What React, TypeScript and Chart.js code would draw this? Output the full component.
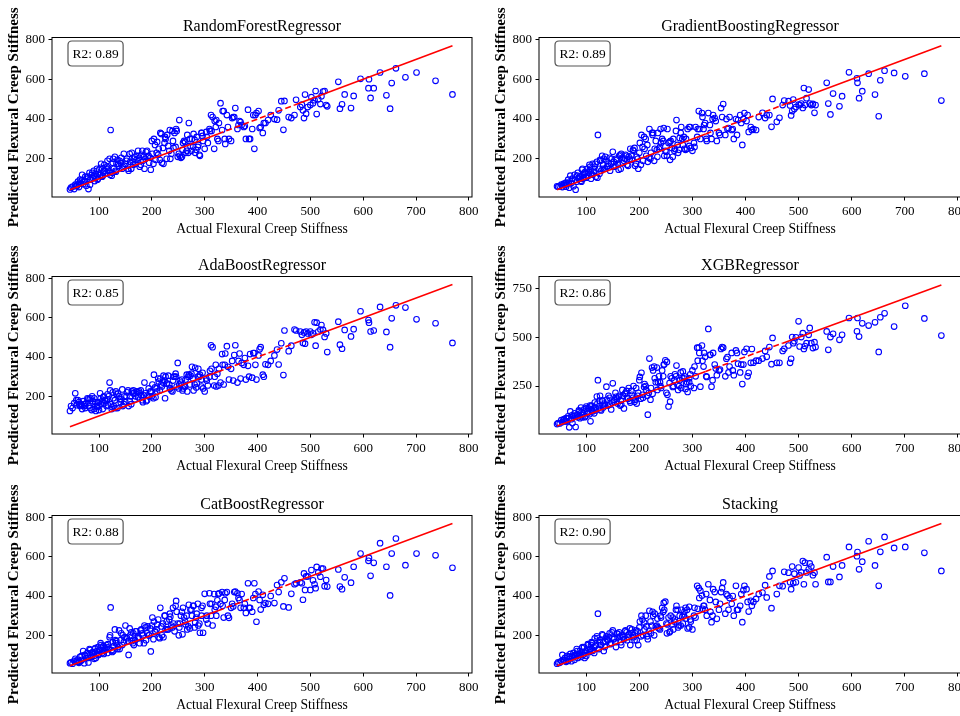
import React, { useEffect, useRef } from 'react';
import { Chart, registerables } from 'chart.js';

Chart.register(...registerables);

const FONT = '"Liberation Serif", "Times New Roman", serif';

// Actual flexural creep stiffness (shared by all six models)
const actual = [
  45, 47, 50, 53, 55, 58, 60, 62, 64, 66,
  68, 70, 72, 74, 76, 78, 80, 82, 84, 86,
  88, 90, 92, 94, 96, 98, 100, 102, 104, 106,
  108, 110, 112, 114, 116, 118, 120, 122, 124, 126,
  128, 130, 132, 135, 138, 141, 144, 147, 150, 153,
  156, 159, 162, 165, 168, 171, 174, 177, 180, 183,
  186, 189, 192, 195, 198, 201, 204, 207, 210, 213,
  216, 219, 222, 225, 228, 231, 234, 237, 240, 243,
  246, 249, 252, 255, 258, 261, 264, 267, 270, 273,
  276, 279, 282, 285, 288, 291, 294, 297, 300, 303,
  306, 309, 312, 315, 318, 321, 324, 327, 330, 333,
  336, 339, 342, 346, 350, 354, 358, 362, 366, 370,
  374, 378, 382, 386, 390, 394, 398, 402, 406, 410,
  415, 420, 432, 437, 440, 449, 451, 459, 464, 473,
  481, 484, 486, 488, 490, 492, 500, 502, 505, 508,
  510, 512, 519, 521, 524, 527, 530, 532, 553, 556,
  560, 565, 577, 582, 595, 610, 611, 614, 620, 632,
  644, 651, 654, 662, 680, 701, 737, 769,
  57, 73, 91, 97, 109, 115, 125, 133, 139, 145,
  152, 161, 166, 173, 179, 185, 191, 197, 203, 209,
  215, 221, 226, 233, 239, 245, 251, 257, 263, 269,
  275, 281, 287, 294, 310, 322, 338, 352, 368, 392,
  62, 67, 79, 83, 87, 93, 99, 103, 107, 111,
  117, 121, 127, 131, 136, 142, 148, 155, 158, 164,
  169, 176, 182, 188, 194, 200, 206, 212, 218, 224,
  229, 235, 241, 247, 253, 259, 266, 272, 278, 284,
  290, 296, 304, 313, 319, 326, 334, 344, 356, 364,
  376, 384, 396, 404, 412, 425, 445, 470, 495, 515,
];

const rfPred = [
  46, 55, 60, 48, 70, 62, 85, 58, 95, 75,
  120, 72, 90, 110, 65, 100, 48, 130, 95, 118,
  105, 140, 88, 125, 150, 100, 145, 120, 175, 110,
  130, 170, 125, 150, 190, 140, 200, 345, 115, 180,
  150, 210, 135, 195, 165, 180, 150, 225, 175, 200,
  140, 185, 230, 170, 210, 195, 240, 160, 220, 190,
  150, 235, 210, 180, 145, 225, 300, 195, 285, 250,
  330, 180, 175, 310, 200, 265, 345, 225, 290, 330,
  350, 210, 395, 205, 245, 290, 230, 320, 380, 265,
  300, 325, 230, 310, 270, 215, 330, 290, 250, 335,
  280, 350, 420, 410, 250, 360, 300, 380, 480, 345,
  440, 275, 420, 300, 290, 410, 455, 350, 390, 370,
  360, 300, 447, 300, 350, 250, 430, 440, 360, 330,
  380, 395, 400, 397, 444, 346, 491, 410, 405, 497,
  460, 472, 444, 405, 523, 427, 470, 510, 480, 495,
  541, 425, 475, 515, 538, 541, 470, 464, 587, 452,
  474, 524, 455, 516, 602, 555, 600, 506, 555, 634,
  519, 452, 581, 655, 610, 634, 592, 524,
  65, 85, 115, 95, 140, 160, 130, 175, 190, 160,
  190, 150, 200, 215, 170, 210, 240, 205, 175, 230,
  195, 255, 300, 240, 340, 260, 225, 210, 285, 230,
  240, 295, 260, 330, 340, 395, 300, 405, 385, 420,
  75, 90, 110, 70, 130, 105, 125, 155, 115, 140,
  155, 120, 200, 140, 175, 205, 165, 150, 225, 185,
  175, 205, 240, 200, 215, 290, 270, 220, 325, 280,
  320, 200, 255, 340, 215, 280, 240, 300, 260, 245,
  220, 315, 310, 340, 390, 290, 440, 360, 410, 370,
  365, 300, 420, 355, 380, 420, 490, 420, 460, 500,
];

const gbPred = [
  62, 60, 63, 70, 58, 75, 68, 80, 72, 95,
  55, 115, 78, 100, 62, 120, 45, 85, 130, 100,
  110, 90, 145, 100, 120, 135, 105, 150, 115, 170,
  140, 125, 175, 130, 160, 110, 185, 320, 150, 195,
  140, 215, 170, 150, 190, 165, 205, 175, 235, 160,
  200, 175, 215, 150, 205, 190, 220, 170, 210, 250,
  195, 240, 165, 210, 150, 280, 320, 190, 250, 215,
  185, 350, 230, 320, 190, 290, 210, 250, 350, 300,
  355, 240, 215, 280, 195, 255, 300, 250, 395, 230,
  305, 360, 270, 250, 300, 350, 265, 255, 240, 280,
  360, 310, 440, 300, 430, 350, 380, 290, 430, 370,
  300, 420, 405, 290, 330, 455, 475, 320, 350, 410,
  345, 300, 400, 395, 420, 270, 430, 390, 335, 360,
  350, 345, 431, 405, 420, 361, 501, 386, 406, 493,
  490, 468, 418, 440, 498, 450, 473, 470, 478, 456,
  556, 470, 548, 478, 470, 476, 431, 470, 582, 478,
  423, 528, 464, 515, 635, 605, 582, 505, 540, 628,
  523, 414, 595, 643, 632, 615, 628, 493,
  70, 90, 85, 130, 100, 140, 125, 200, 160, 140,
  185, 145, 225, 200, 165, 215, 255, 200, 170, 310,
  270, 200, 330, 245, 260, 290, 235, 285, 210, 340,
  245, 300, 245, 360, 350, 370, 400, 320, 355, 380,
  60, 80, 95, 115, 100, 150, 110, 130, 160, 120,
  175, 105, 190, 150, 210, 175, 200, 165, 195, 220,
  180, 215, 200, 245, 175, 230, 260, 300, 205, 330,
  250, 330, 280, 215, 350, 290, 240, 270, 330, 310,
  250, 360, 260, 350, 410, 300, 330, 390, 410, 400,
  350, 320, 400, 420, 345, 410, 420, 470, 460, 505,
];

const adaPred = [
  125, 150, 140, 165, 215, 155, 180, 170, 150, 160,
  135, 175, 150, 140, 165, 190, 150, 185, 190, 130,
  175, 135, 160, 125, 150, 170, 130, 215, 160, 175,
  195, 165, 180, 150, 210, 200, 270, 160, 135, 220,
  150, 180, 225, 140, 200, 170, 235, 160, 170, 220,
  150, 200, 225, 230, 185, 225, 195, 215, 205, 170,
  270, 175, 205, 200, 220, 260, 310, 195, 225, 275,
  290, 250, 305, 190, 265, 305, 240, 230, 280, 300,
  300, 370, 260, 270, 230, 250, 285, 225, 310, 305,
  350, 230, 345, 265, 340, 310, 285, 240, 225, 290,
  255, 300, 460, 450, 255, 360, 315, 340, 270, 415,
  260, 418, 455, 285, 340, 280, 460, 270, 418, 370,
  360, 285, 355, 415, 295, 420, 285, 408, 450, 310,
  363, 360, 408, 438, 362, 308, 535, 430, 458, 535,
  530, 513, 472, 525, 468, 530, 530, 513, 520, 577,
  458, 575, 540, 563, 538, 502, 520, 425, 580, 463,
  442, 538, 505, 542, 633, 588, 575, 530, 535, 655,
  528, 450, 597, 663, 652, 592, 572, 472,
  180, 160, 190, 145, 200, 185, 145, 210, 185, 150,
  200, 160, 215, 220, 230, 205, 180, 225, 190, 240,
  230, 270, 300, 260, 225, 315, 240, 285, 250, 300,
  315, 260, 300, 250, 330, 250, 360, 380, 290, 420,
  160, 155, 185, 140, 200, 170, 150, 190, 135, 180,
  155, 230, 190, 140, 215, 185, 200, 230, 175, 215,
  200, 225, 180, 215, 240, 200, 245, 290, 260, 280,
  265, 240, 300, 250, 280, 240, 310, 260, 290, 245,
  300, 320, 280, 340, 300, 255, 360, 350, 410, 380,
  395, 300, 360, 440, 300, 380, 470, 540, 520, 530,
];

const xgbPred = [
  55, 60, 58, 75, 65, 80, 70, 85, 68, 95,
  38, 120, 80, 60, 95, 110, 40, 100, 90, 125,
  85, 140, 100, 110, 130, 95, 145, 120, 135, 105,
  69, 150, 120, 135, 165, 125, 196, 280, 140, 200,
  125, 175, 140, 160, 247, 150, 190, 130, 264, 180,
  195, 160, 200, 175, 230, 135, 215, 190, 240, 165,
  205, 250, 180, 160, 215, 297, 318, 190, 260, 230,
  103, 391, 240, 210, 350, 270, 230, 300, 250, 330,
  360, 382, 374, 145, 170, 290, 250, 310, 355, 230,
  280, 240, 325, 300, 260, 220, 290, 250, 330, 240,
  300, 447, 447, 247, 458, 350, 400, 297, 543, 410,
  247, 420, 360, 306, 330, 440, 447, 300, 399, 350,
  420, 306, 433, 365, 320, 260, 425, 441, 318, 369,
  370, 380, 391, 430, 400, 362, 497, 369, 369, 441,
  458, 369, 390, 501, 470, 480, 582, 453, 501, 521,
  440, 455, 513, 548, 470, 445, 475, 450, 530, 436,
  501, 518, 487, 513, 599, 531, 599, 504, 572, 560,
  577, 425, 603, 623, 555, 662, 597, 509,
  75, 100, 115, 90, 145, 110, 175, 150, 180, 155,
  170, 195, 155, 210, 185, 225, 170, 200, 185, 245,
  200, 180, 330, 345, 270, 300, 215, 265, 245, 300,
  250, 290, 235, 270, 380, 420, 280, 335, 320, 360,
  70, 85, 95, 105, 120, 90, 135, 110, 150, 125,
  140, 160, 130, 175, 150, 200, 165, 215, 185, 150,
  200, 225, 175, 190, 240, 280, 205, 250, 215, 345,
  290, 270, 240, 360, 205, 300, 280, 255, 320, 290,
  270, 310, 350, 420, 380, 300, 410, 340, 450, 390,
  330, 420, 360, 300, 440, 380, 450, 430, 500, 470,
];

const catPred = [
  58, 62, 55, 70, 80, 65, 75, 60, 90, 70,
  75, 120, 58, 95, 85, 110, 62, 130, 100, 90,
  115, 95, 130, 85, 120, 140, 105, 125, 150, 110,
  145, 120, 135, 150, 110, 130, 190, 342, 125, 165,
  145, 230, 160, 130, 225, 175, 150, 165, 250, 185,
  100, 200, 170, 210, 175, 220, 190, 160, 230, 200,
  250, 175, 245, 200, 118, 290, 270, 215, 255, 190,
  340, 200, 190, 300, 270, 230, 310, 250, 340, 220,
  375, 260, 240, 300, 205, 290, 255, 230, 355, 330,
  300, 350, 265, 310, 250, 213, 340, 213, 411, 280,
  260, 414, 300, 250, 410, 345, 378, 414, 360, 420,
  290, 414, 420, 289, 340, 347, 423, 414, 380, 410,
  340, 314, 465, 340, 320, 465, 269, 423, 331, 406,
  364, 360, 364, 456, 420, 347, 490, 342, 411, 465,
  470, 465, 381, 515, 431, 500, 431, 532, 480, 460,
  440, 548, 498, 540, 540, 450, 481, 448, 535, 448,
  435, 495, 468, 549, 616, 579, 594, 503, 569, 669,
  549, 403, 616, 693, 557, 616, 607, 544,
  70, 100, 80, 120, 105, 140, 115, 170, 130, 200,
  190, 215, 150, 185, 225, 160, 210, 235, 180, 230,
  185, 260, 230, 280, 240, 350, 200, 320, 270, 245,
  330, 240, 360, 300, 360, 300, 380, 360, 340, 390,
  65, 95, 85, 125, 110, 135, 100, 160, 140, 125,
  155, 200, 120, 175, 140, 210, 190, 170, 235, 160,
  220, 185, 210, 240, 200, 250, 220, 280, 245, 300,
  230, 295, 260, 320, 260, 340, 300, 235, 350, 290,
  260, 350, 300, 360, 330, 410, 350, 300, 420, 390,
  360, 340, 410, 380, 355, 400, 470, 460, 500, 520,
];

const stackPred = [
  55, 62, 60, 68, 100, 72, 85, 65, 95, 70,
  80, 105, 68, 90, 110, 75, 95, 130, 85, 100,
  120, 90, 135, 100, 140, 110, 95, 125, 150, 115,
  130, 165, 120, 140, 185, 150, 195, 310, 130, 175,
  150, 205, 165, 140, 195, 175, 210, 160, 225, 185,
  140, 190, 215, 165, 200, 180, 225, 175, 205, 150,
  230, 190, 210, 175, 150, 270, 300, 200, 230, 245,
  180, 325, 210, 320, 200, 245, 285, 235, 300, 340,
  365, 371, 210, 290, 220, 255, 230, 280, 350, 240,
  300, 330, 260, 320, 285, 235, 345, 270, 230, 300,
  290, 452, 440, 427, 402, 350, 330, 300, 460, 380,
  267, 435, 420, 284, 330, 420, 469, 310, 402, 390,
  360, 300, 452, 330, 350, 267, 452, 435, 321, 376,
  370, 385, 418, 455, 393, 338, 528, 410, 452, 523,
  519, 470, 435, 550, 466, 514, 545, 505, 520, 578,
  460, 570, 536, 566, 550, 506, 519, 460, 598, 472,
  472, 550, 497, 556, 650, 603, 624, 536, 575, 679,
  556, 452, 625, 701, 645, 650, 620, 528,
  75, 95, 115, 85, 150, 110, 165, 120, 180, 155,
  180, 205, 150, 220, 190, 210, 175, 220, 195, 265,
  195, 270, 300, 250, 230, 320, 260, 215, 290, 330,
  250, 295, 340, 240, 335, 350, 300, 360, 330, 410,
  70, 90, 100, 120, 105, 140, 120, 155, 130, 160,
  145, 185, 150, 200, 170, 190, 215, 165, 210, 195,
  190, 215, 235, 200, 225, 240, 280, 300, 220, 250,
  310, 240, 290, 330, 255, 300, 270, 330, 250, 300,
  330, 280, 340, 390, 335, 410, 320, 370, 440, 410,
  400, 330, 430, 370, 350, 410, 500, 450, 470, 520,
];

// Identity (perfect prediction) line vertices, y = x
const identityLine = [45, 325, 470, 769];

const modelNames = [
  'RandomForestRegressor',
  'GradientBoostingRegressor',
  'AdaBoostRegressor',
  'XGBRegressor',
  'CatBoostRegressor',
  'Stacking',
];
const r2Labels = ['R2: 0.89', 'R2: 0.89', 'R2: 0.85', 'R2: 0.86', 'R2: 0.88', 'R2: 0.90'];
const predictions = [rfPred, gbPred, adaPred, xgbPred, catPred, stackPred];

const xTicks = [100, 200, 300, 400, 500, 600, 700, 800];
const yTicks = [200, 400, 600, 800];
const yTicksXgb = [250, 500, 750];

const xLabel = 'Actual Flexural Creep Stiffness';
const yLabel = 'Predicted Flexural Creep Stiffness';

// Layout of the 3x2 grid (canvas boxes, page px)
const colX = [0, 487];
const colW = [486, 488];
const rowY = [7, 246, 485];
const rowH = [234, 232, 232];

const framePlugin = {
  id: 'frameBox',
  afterDatasetsDraw(chart: any, _args: any, opts: any) {
    const { ctx, chartArea: a } = chart;
    ctx.save();
    ctx.strokeStyle = '#000';
    ctx.lineWidth = 1;
    ctx.strokeRect(a.left, a.top, a.right - a.left, a.bottom - a.top);
    const label = opts.label || '';
    ctx.font = `13.4px ${FONT}`;
    const tw = ctx.measureText(label).width;
    const bx = a.left + 16;
    const by = a.top + 3.5;
    const bw = tw + 9;
    const bh = 25;
    const r = 4;
    ctx.beginPath();
    ctx.moveTo(bx + r, by);
    ctx.lineTo(bx + bw - r, by);
    ctx.quadraticCurveTo(bx + bw, by, bx + bw, by + r);
    ctx.lineTo(bx + bw, by + bh - r);
    ctx.quadraticCurveTo(bx + bw, by + bh, bx + bw - r, by + bh);
    ctx.lineTo(bx + r, by + bh);
    ctx.quadraticCurveTo(bx, by + bh, bx, by + bh - r);
    ctx.lineTo(bx, by + r);
    ctx.quadraticCurveTo(bx, by, bx + r, by);
    ctx.closePath();
    ctx.fillStyle = '#ffffff';
    ctx.fill();
    ctx.strokeStyle = '#555555';
    ctx.lineWidth = 1.2;
    ctx.stroke();
    ctx.fillStyle = '#000';
    ctx.textAlign = 'center';
    ctx.textBaseline = 'middle';
    ctx.fillText(label, bx + bw / 2, by + bh / 2 + 0.5);
    ctx.restore();
  },
};

function Panel({ idx }: { idx: number }) {
  const ref = useRef<HTMLCanvasElement>(null);
  const col = idx % 2;
  const row = Math.floor(idx / 2);
  const w = colW[col];
  const h = rowH[row];
  const isXgb = modelNames[idx] === 'XGBRegressor';

  useEffect(() => {
    if (!ref.current) return;
    const pred = predictions[idx];
    const yt = isXgb ? yTicksXgb : yTicks;
    const chart = new Chart(ref.current, {
      type: 'scatter',
      data: {
        datasets: [
          {
            type: 'line',
            data: identityLine.map((v) => ({ x: v, y: v })),
            borderColor: '#ff0000',
            borderWidth: 1.6,
            pointRadius: 0,
            fill: false,
            tension: 0,
            segment: {
              borderDash: (c: any) => (c.p0DataIndex === 1 ? [6, 3] : undefined),
            },
          } as any,
          {
            type: 'scatter',
            data: actual.map((x, i) => ({ x, y: pred[i] })),
            borderColor: '#0000ff',
            backgroundColor: 'rgba(0,0,0,0)',
            pointRadius: 2.8,
            pointHoverRadius: 2.8,
            borderWidth: 1.1,
          } as any,
        ],
      },
      options: {
        responsive: false,
        animation: false,
        events: [],
        layout: { padding: { left: 0, top: 0, right: 14, bottom: 0 } },
        plugins: {
          legend: { display: false },
          tooltip: { enabled: false },
          title: {
            display: true,
            text: modelNames[idx],
            fullSize: false,
            color: '#000',
            font: { family: FONT, size: 16, weight: 'normal' },
            padding: { top: 10.5, bottom: 0.8 },
          },
          frameBox: { label: r2Labels[idx] },
        } as any,
        scales: {
          x: {
            type: 'linear',
            min: 11,
            max: 806,
            afterBuildTicks: (s: any) => {
              s.ticks = xTicks.map((v) => ({ value: v }));
            },
            afterFit: (s: any) => {
              s.height = 44;
            },
            grid: { drawOnChartArea: false, drawTicks: true, tickLength: 3.5, tickColor: '#000', tickWidth: 1 },
            border: { display: false },
            ticks: { color: '#000', font: { family: FONT, size: 13 }, padding: 3, maxRotation: 0, autoSkip: false },
            title: {
              display: true,
              text: xLabel,
              color: '#000',
              font: { family: FONT, size: 13.6 },
              padding: { top: 0, bottom: 3 },
            },
          },
          y: {
            type: 'linear',
            min: isXgb ? 4 : 8,
            max: isXgb ? 812 : 810,
            afterBuildTicks: (s: any) => {
              s.ticks = yt.map((v) => ({ value: v }));
            },
            afterFit: (s: any) => {
              s.width = 52;
            },
            grid: { drawOnChartArea: false, drawTicks: true, tickLength: 3.5, tickColor: '#000', tickWidth: 1 },
            border: { display: false },
            ticks: { color: '#000', font: { family: FONT, size: 13 }, padding: 3.5, autoSkip: false },
            title: {
              display: true,
              text: yLabel,
              color: '#000',
              font: { family: FONT, size: 15, weight: 'bold' },
              padding: { top: 5.5, bottom: 0 },
            },
          },
        },
      } as any,
      plugins: [framePlugin as any],
    });
    return () => chart.destroy();
  }, [idx]);

  return (
    <canvas
      ref={ref}
      width={w}
      height={h}
      style={{ position: 'absolute', left: colX[col], top: rowY[row], width: w, height: h }}
    />
  );
}

export default function App() {
  return (
    <div
      style={{
        position: 'absolute',
        left: 0,
        top: 0,
        width: 960,
        height: 716,
        overflow: 'hidden',
        background: '#ffffff',
      }}
    >
      {modelNames.map((_, i) => (
        <Panel key={i} idx={i} />
      ))}
    </div>
  );
}
